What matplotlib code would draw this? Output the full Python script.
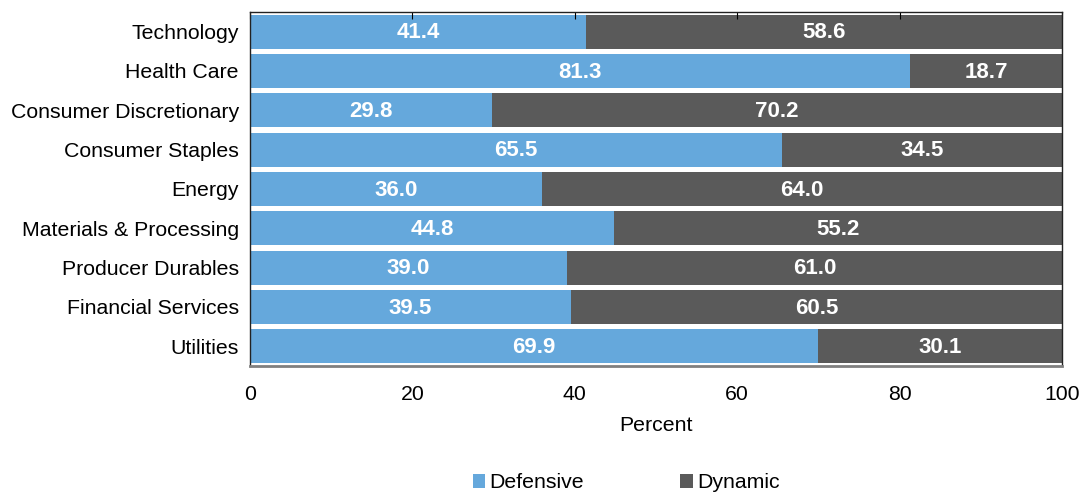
import numpy as np
import matplotlib.pyplot as plt

plt.rcParams["font.family"] = ["Liberation Sans", "DejaVu Sans"]

sectors = ["Technology", "Health Care", "Consumer Discretionary", "Consumer Staples",
           "Energy", "Materials & Processing", "Producer Durables",
           "Financial Services", "Utilities"]
defensive = [41.4, 81.3, 29.8, 65.5, 36.0, 44.8, 39.0, 39.5, 69.9]
dynamic = [58.6, 18.7, 70.2, 34.5, 64.0, 55.2, 61.0, 60.5, 30.1]

blue = "#65a8dc"
grey = "#5a5a5a"
fs = 15.3

fig = plt.figure(figsize=(10.79, 4.93), dpi=100)
ax = fig.add_axes([250 / 1079, 1 - 366 / 493, 812 / 1079, 354 / 493])

y = np.arange(len(sectors))
h = 0.87
ax.barh(y, defensive, height=h, color=blue, label="Defensive")
ax.barh(y, dynamic, left=defensive, height=h, color=grey, label="Dynamic")

for i in range(len(sectors)):
    ax.text(defensive[i] / 2, y[i] + 0.03, f"{defensive[i]:.1f}", ha="center", va="center",
            color="white", fontsize=16, fontweight="bold")
    ax.text(defensive[i] + dynamic[i] / 2, y[i] + 0.03, f"{dynamic[i]:.1f}", ha="center",
            va="center", color="white", fontsize=16, fontweight="bold")

ax.set_xlim(0, 100)
ax.set_ylim(len(sectors) - 0.5, -0.5)
ax.set_yticks(y)
ax.set_yticklabels(sectors, fontsize=fs)
ax.set_xticks(np.arange(0, 101, 20))
ax.tick_params(axis="x", labelsize=fs, top=True, bottom=False, direction="in",
               length=5, color="black", pad=14)
ax.tick_params(axis="y", length=0, pad=8)
ax.set_xlabel("Percent", fontsize=fs, labelpad=8)

for s in ["top", "right", "left"]:
    ax.spines[s].set_color("#222222")
    ax.spines[s].set_linewidth(1)
ax.spines["bottom"].set_color("#808080")
ax.spines["bottom"].set_linewidth(2)

ax.legend(loc="center", bbox_to_anchor=(0.463, -0.33), ncol=2, frameon=False,
          fontsize=fs, handlelength=0.6, handleheight=0.6, handletextpad=0.2,
          columnspacing=4.5)

fig.savefig("out.png", dpi=100)
